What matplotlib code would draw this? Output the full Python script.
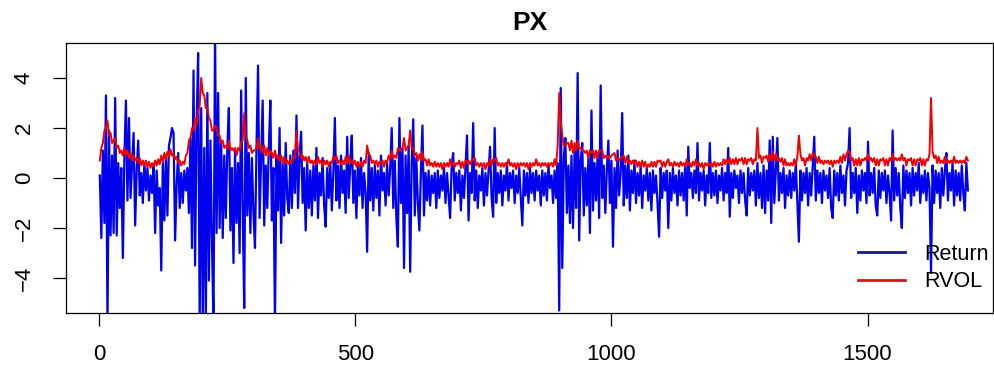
import matplotlib
matplotlib.use("Agg")
import matplotlib.pyplot as plt
import numpy as np

# every third observation of the PX series
step = 3

ret = [
    0.1, -2.4, 1.1, -1.8, 3.3, -5.8, 1.9, -2.3, 0.9, -2.2,
    3.2, -2.3, 0.6, -1.2, 0.4, -3.2, 0.8, 3.1, -0.9, 2.4,
    -0.8, 0.5, 1.8, -1.9, 0.3, 1.5, -0.7, 0.2, -1.0, 0.6,
    -0.5, 0.4, -0.9, 0.1, -0.6, 0.5, -2.2, 0.3, -1.1, -0.4,
    -3.7, 0.6, -1.7, 0.9, -1.5, 1.3, 1.6, 2.0, 1.8, -2.5,
    -0.3, 1.0, -1.2, 0.2, -1.0, 0.3, -0.5, 0.4, -1.4, 1.6,
    -2.8, 4.3, -3.5, 2.1, 5.0, -5.8, 2.8, -5.8, 1.2, -5.8,
    3.4, -4.1, 1.5, -2.6, -5.8, 5.9, -2.2, 3.4, -2.0, 1.5,
    -2.4, 0.9, -1.6, 1.2, 2.8, -2.1, 0.4, -3.4, 1.1, -1.8,
    0.6, -3.0, 3.5, -1.2, -5.2, 4.0, -1.5, 1.0, -2.2, 0.8,
    -1.4, -2.8, 1.3, 4.5, -1.6, 0.7, 3.1, -1.9, 0.5, -1.2,
    1.2, 3.1, -1.7, 0.4, -5.8, 0.9, -1.3, 2.0, -2.6, 0.6,
    -1.5, 1.4, -0.8, -1.4, 0.9, -1.2, 1.1, -0.6, 2.5, -1.2,
    0.8, 1.85, -1.0, 0.4, -2.1, 0.6, -1.2, 0.3, -1.5, 0.5,
    -0.9, 1.2, -1.6, 0.2, -0.7, 0.8, -1.1, -1.95, 0.4, -0.8,
    0.6, -1.3, 0.2, 2.4, -0.9, 0.5, -1.2, 0.9, -0.6, 0.3,
    -1.4, 1.65, -0.8, 0.5, 1.7, -1.0, 0.3, -1.6, 0.6, -0.7,
    0.8, -1.2, 0.2, -0.6, -2.95, 1.0, -0.9, 0.4, -1.3, 0.5,
    -0.8, 0.3, -1.5, 0.9, -0.5, 0.2, -1.1, 0.6, -0.7, 0.4,
    2.0, -1.2, 0.7, -1.6, -2.75, 2.4, -1.0, 1.2, -3.6, 0.9,
    -1.4, 1.3, -3.75, 0.6, 2.35, -1.5, 0.8, -1.0, -2.1, 0.3,
    2.1, -1.5, 0.2, -0.9, 0.3, -1.1, 0.1, -0.6, 0.2, -1.2,
    0.3, -0.8, 0.1, -0.5, 0.4, -1.0, 0.2, -0.7, -1.6, 0.5,
    1.0, -0.9, 0.2, -0.6, 0.3, -1.3, 0.1, -0.8, 0.4, 1.7,
    -1.7, 0.2, -0.6, 2.2, -0.9, 0.3, -1.2, 0.1, -0.5, 0.4,
    -1.1, 0.2, -0.7, 0.3, 1.25, -0.8, -1.55, 2.0, -1.0, 0.2,
    -0.6, 0.3, -1.1, 0.1, -0.5, 0.6, -0.9, 0.2, -0.4, 0.3,
    -1.0, 0.1, -0.6, 0.4, -0.8, -1.9, 0.3, -0.7, 0.2, -1.0,
    0.4, -0.6, 0.2, -0.9, 0.3, -0.5, 0.1, -1.1, 0.3, -0.7,
    0.2, -0.9, 0.5, -0.4, 0.1, -1.0, 0.3, -0.8, 0.6, -5.3,
    3.6, -3.6, 0.8, 1.6, -1.4, 0.5, -1.8, 0.9, -2.0, 1.1,
    -1.2, 4.2, -2.5, 0.7, 1.4, -1.5, 0.4, -1.1, 0.8, -2.2,
    2.7, -1.3, 0.6, -0.9, 1.0, -1.6, 3.7, -0.8, 0.5, -1.4,
    0.3, 1.5, -1.0, 0.7, -2.75, 0.4, -1.2, 1.1, -0.7, 0.2,
    2.6, -1.1, 0.5, -0.8, 0.9, -1.3, 0.3, -0.6, 0.7, -1.0,
    0.2, -0.7, 0.5, -1.2, 0.1, -0.5, 0.4, -0.9, 0.2, -1.3,
    0.3, -0.6, 0.1, -1.0, -2.35, 0.4, -0.8, 0.2, -0.5, 0.3,
    -2.0, 0.2, -0.9, 0.4, -0.6, 0.1, -1.1, 0.3, -0.7, 0.2,
    -0.9, 0.5, -1.5, 1.25, -0.4, 0.2, -0.8, 0.3, -0.6, 1.4,
    -0.9, 0.2, -0.5, 0.3, -1.1, 0.1, -0.6, 1.4, -0.8, 0.2,
    -0.7, 0.3, -1.0, 0.1, -0.5, 0.4, -0.9, 0.2, -0.6, 1.2,
    -1.55, 0.2, -0.8, 0.3, -0.4, 0.1, -1.0, 0.3, -0.6, 0.2,
    -0.9, -1.5, 0.4, -0.7, 0.2, -0.5, 0.3, -1.1, 0.6, -0.8,
    0.2, -1.2, 0.5, -1.4, 0.3, -0.9, 1.5, -1.8, 1.65, -1.0,
    0.3, 1.6, -0.9, 0.2, -0.6, 0.4, -1.2, 0.1, -0.7, 0.3,
    -0.8, 0.2, -0.5, 0.6, -1.0, -2.55, 0.3, -0.9, 0.2, -0.6,
    0.4, -1.1, 0.2, -0.7, 0.5, 1.65, -0.9, 0.3, -0.6, 0.2,
    -1.0, 0.3, -0.5, 0.1, -0.8, 0.4, -1.2, -1.6, 0.3, -0.7,
    0.2, -0.9, 0.5, -0.6, 0.1, -1.1, 0.3, 0.6, 2.0, -0.8,
    0.2, -0.6, 0.4, -1.4, 0.1, -0.9, 0.3, -0.5, 0.2, -1.0,
    1.45, -0.7, 0.2, -0.6, 0.4, -1.1, -1.5, 0.3, -0.8, 0.2,
    -0.5, 0.3, -1.0, 0.1, -0.6, -1.7, 1.9, -0.9, 0.4, -0.7,
    0.2, -1.2, -2.0, 0.5, -0.8, 0.3, -0.6, 0.2, -1.1, 0.4,
    -0.7, 0.2, -0.5, 0.6, -1.0, 0.1, -0.6, 0.3, -0.9, 0.2,
    -0.4, -3.8, 0.5, -1.0, 0.3, -0.6, 0.2, -1.2, 0.4, -0.7,
    0.3, 1.0, -0.9, 0.2, -0.5, 0.6, -1.1, 0.3, -0.7, 0.2,
    -0.9, 0.5, -0.6, -1.3, 0.6, -0.5,
]

rvol = [
    0.7, 1.2, 1.4, 1.9, 2.0, 2.3, 1.7, 1.8, 1.4, 1.5,
    1.6, 1.2, 1.3, 1.0, 1.1, 0.9, 1.2, 0.9, 1.1, 0.8,
    1.0, 0.7, 0.9, 0.7, 0.8, 0.6, 0.8, 0.5, 0.7, 0.5,
    0.7, 0.45, 0.65, 0.4, 0.6, 0.45, 0.7, 0.5, 0.75, 0.55,
    0.9, 0.65, 1.0, 0.75, 1.05, 0.85, 1.15, 0.9, 1.0, 0.75,
    0.85, 0.6, 0.7, 0.5, 0.65, 0.55, 0.9, 1.0, 1.5, 1.6,
    2.0, 1.9, 2.4, 2.1, 2.7, 2.9, 4.0, 3.4, 3.3, 2.8,
    2.8, 2.4, 2.3, 1.9, 1.9, 2.1, 2.0, 1.7, 1.7, 1.4,
    1.5, 1.2, 1.3, 1.2, 1.5, 1.1, 1.2, 1.1, 1.2, 0.9,
    1.2, 1.1, 1.4, 1.5, 2.6, 1.7, 1.5, 1.2, 1.3, 1.0,
    1.1, 1.1, 1.2, 1.6, 1.2, 1.3, 1.0, 1.3, 0.9, 1.2,
    0.9, 1.1, 1.0, 0.8, 1.1, 0.8, 0.9, 0.7, 0.9, 0.6,
    0.85, 0.6, 0.7, 0.55, 0.7, 0.6, 0.85, 0.8, 1.9, 1.1,
    1.05, 0.8, 0.9, 0.7, 0.85, 0.6, 0.85, 0.6, 0.7, 0.55,
    0.7, 0.55, 0.85, 0.6, 0.7, 0.45, 0.7, 0.55, 0.7, 0.45,
    0.65, 0.6, 0.85, 0.75, 0.9, 0.6, 0.7, 0.55, 0.7, 0.55,
    0.85, 0.6, 0.9, 0.6, 0.7, 0.55, 0.7, 0.45, 0.65, 0.45,
    0.65, 0.45, 0.7, 0.6, 1.3, 0.95, 0.9, 0.6, 0.7, 0.55,
    0.7, 0.45, 0.65, 0.6, 0.7, 0.45, 0.7, 0.6, 0.9, 0.75,
    1.1, 0.8, 0.9, 0.8, 1.2, 1.1, 1.1, 1.2, 1.6, 1.1,
    1.2, 1.3, 1.9, 1.2, 1.2, 0.9, 1.0, 0.7, 0.95, 0.7,
    1.05, 0.7, 0.75, 0.5, 0.75, 0.5, 0.6, 0.45, 0.65, 0.45,
    0.6, 0.45, 0.6, 0.35, 0.6, 0.45, 0.6, 0.45, 0.75, 0.5,
    0.6, 0.45, 0.6, 0.55, 0.7, 0.4, 0.65, 0.4, 0.7, 0.6,
    0.7, 0.55, 0.7, 0.75, 0.8, 0.5, 0.6, 0.45, 0.6, 0.45,
    0.6, 0.35, 0.6, 0.5, 0.75, 0.5, 0.75, 0.7, 0.8, 0.5,
    0.6, 0.45, 0.6, 0.45, 0.6, 0.5, 0.75, 0.5, 0.6, 0.45,
    0.6, 0.35, 0.6, 0.45, 0.6, 0.5, 0.6, 0.45, 0.6, 0.35,
    0.6, 0.45, 0.6, 0.5, 0.75, 0.5, 0.6, 0.45, 0.6, 0.5,
    0.6, 0.45, 0.6, 0.5, 0.6, 0.45, 0.75, 0.5, 1.3, 3.4,
    2.3, 1.7, 1.3, 1.3, 1.4, 1.4, 1.1, 1.5, 1.0, 1.4,
    1.1, 1.5, 1.2, 1.2, 1.1, 1.1, 1.0, 1.1, 0.8, 1.1,
    1.0, 1.1, 0.8, 1.1, 0.8, 1.1, 1.1, 1.1, 0.8, 0.9,
    0.8, 0.9, 0.8, 0.9, 0.95, 1.0, 0.7, 0.8, 0.7, 0.8,
    0.85, 0.9, 0.6, 0.85, 0.6, 0.7, 0.55, 0.7, 0.6, 0.7,
    0.45, 0.65, 0.45, 0.7, 0.45, 0.65, 0.4, 0.55, 0.45, 0.65,
    0.45, 0.65, 0.45, 0.7, 0.65, 0.7, 0.45, 0.65, 0.45, 0.65,
    0.75, 0.5, 0.6, 0.45, 0.65, 0.5, 0.6, 0.45, 0.65, 0.5,
    0.6, 0.45, 0.75, 0.55, 0.6, 0.45, 0.65, 0.5, 0.75, 0.5,
    0.6, 0.45, 0.6, 0.35, 0.6, 0.5, 0.6, 0.5, 0.6, 0.45,
    0.65, 0.45, 0.6, 0.5, 0.6, 0.5, 0.75, 0.55, 0.75, 0.6,
    0.8, 0.55, 0.75, 0.55, 0.8, 0.55, 0.75, 0.7, 0.8, 0.55,
    0.8, 0.55, 0.75, 0.7, 0.8, 0.55, 0.75, 0.7, 2.0, 0.8,
    0.9, 0.6, 0.85, 0.8, 0.9, 0.65, 0.95, 0.7, 1.05, 0.7,
    0.95, 0.7, 0.8, 0.65, 0.8, 0.5, 0.75, 0.5, 0.6, 0.5,
    0.6, 0.5, 0.75, 0.5, 0.85, 1.7, 0.95, 0.7, 0.8, 0.5,
    0.8, 0.7, 0.95, 0.7, 1.0, 0.95, 0.85, 0.6, 0.85, 0.6,
    0.7, 0.55, 0.7, 0.6, 0.7, 0.55, 0.7, 0.45, 0.7, 0.6,
    0.7, 0.6, 0.85, 0.6, 0.95, 0.7, 0.95, 1.1, 1.05, 0.7,
    0.8, 0.5, 0.75, 0.5, 0.8, 0.5, 0.75, 0.7, 0.8, 0.7,
    0.95, 0.7, 0.8, 0.65, 0.8, 0.5, 0.75, 0.5, 0.75, 0.7,
    0.8, 0.5, 0.75, 0.5, 0.8, 0.7, 0.95, 0.7, 0.8, 0.7,
    0.8, 0.7, 0.95, 0.7, 0.8, 0.5, 0.75, 0.7, 0.8, 0.5,
    0.75, 0.5, 0.75, 0.7, 0.8, 0.5, 0.75, 0.5, 0.75, 0.7,
    0.95, 3.2, 1.05, 0.8, 0.9, 0.6, 0.85, 0.6, 0.7, 0.6,
    0.85, 0.6, 0.7, 0.6, 0.7, 0.6, 0.85, 0.6, 0.7, 0.6,
    0.7, 0.6, 0.7, 0.6, 0.85, 0.7,
]

xticks = [0, 500, 1000, 1500]
yticks = [-4, -2, 0, 2, 4]

plt.rcParams['font.family'] = ['Liberation Sans', 'DejaVu Sans']

obs = np.arange(len(ret)) * step + 1

fig = plt.figure(figsize=(9.95, 3.71), dpi=100)
ax = fig.add_axes([66 / 995, 1 - 313 / 371, 927 / 995, 270 / 371])

ax.plot(obs, ret, color='#0000f0', lw=1.6, label='Return')
ax.plot(obs, rvol, color='#f00000', lw=1.4, label='RVOL')

ax.set_xlim(-65, 1745)
ax.set_ylim(-5.4, 5.4)
ax.set_xticks(xticks)
ax.set_yticks(yticks)
ax.tick_params(direction='out', length=9.5, width=0.9, labelsize=16, pad=13)
for lab in ax.get_yticklabels():
    lab.set_rotation(90)
    lab.set_va('center')
for sp in ax.spines.values():
    sp.set_linewidth(0.9)

ax.set_title('PX', fontsize=19, fontweight='bold', pad=9)

leg = ax.legend(loc='center left', bbox_to_anchor=(858 / 995, 1 - 268 / 371),
                bbox_transform=fig.transFigure, frameon=False, fontsize=15.5,
                handlelength=2.2, handletextpad=0.9, labelspacing=0.3,
                borderpad=0, borderaxespad=0)
leg.get_lines()[0].set_color('#1a1a8c')
leg.get_lines()[1].set_color('#d01818')
for line in leg.get_lines():
    line.set_linewidth(2.0)

fig.savefig('out.png', dpi=100)
